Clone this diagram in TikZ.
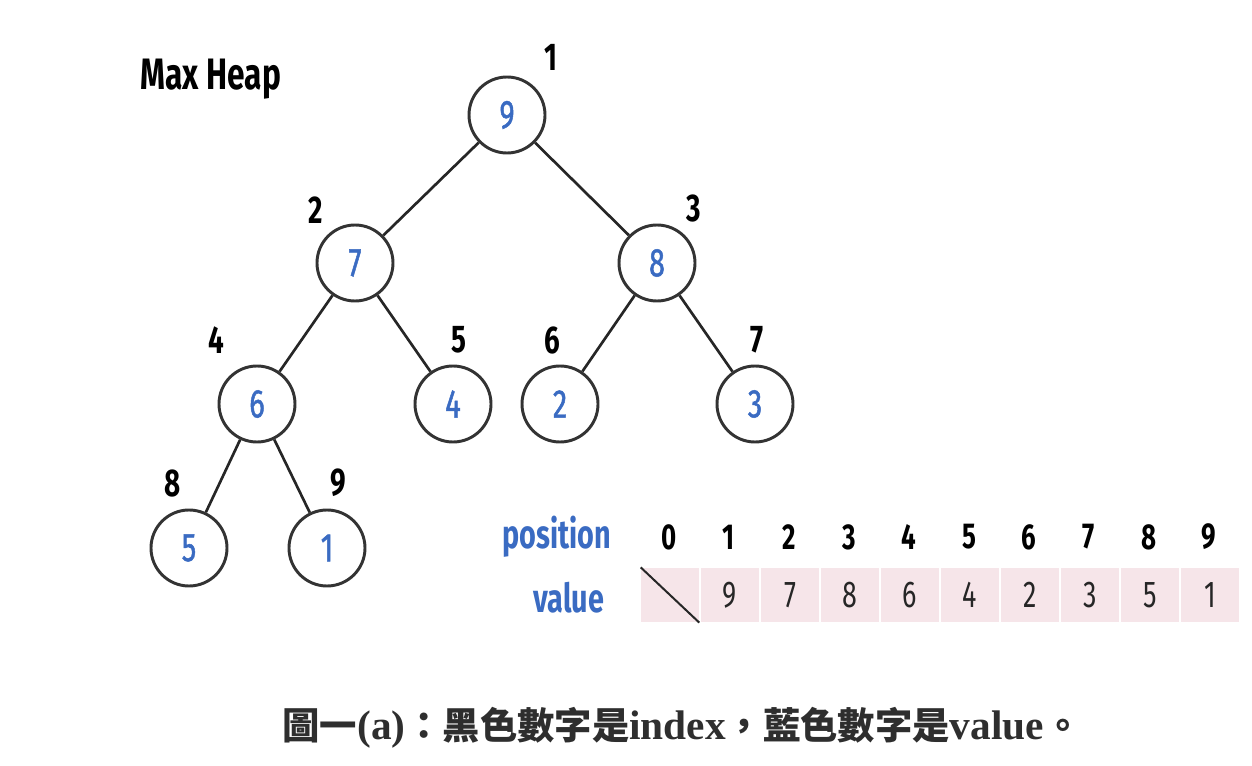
\documentclass[tikz,border=0pt]{standalone}
\usepackage{fontspec}
\usepackage{tikz}
\setmainfont{Liberation Serif}
\newfontfamily\dinfont[FakeStretch=0.72]{Fira Sans}
\newfontfamily\dinmed[FakeStretch=0.72, FakeBold=1.2]{Fira Sans}
\newfontfamily\cjkfont{Noto Sans CJK TC}
\definecolor{heapblue}{HTML}{3A6BC2}
\definecolor{cellpink}{HTML}{F6E5E9}
\definecolor{captiongray}{HTML}{2E2E2E}
\newcommand{\capcjk}[1]{{\cjkfont\fontsize{28}{28}\selectfont #1}}

\begin{document}
\begin{tikzpicture}[x=0.75pt, y=-0.75pt,
        heapnode/.style={circle, draw=black!80, line width=2.2pt, minimum size=57pt,
            inner sep=0pt, text=heapblue, font=\dinmed\fontsize{30}{30}\selectfont},
        idx/.style={font=\dinfont\bfseries\fontsize{29}{29}\selectfont},
        cell/.style={fill=cellpink, minimum width=43.5pt, minimum height=41pt,
            inner sep=0pt, text=black!85, font=\dinfont\fontsize{28}{28}\selectfont},
        edge/.style={line width=2pt, black!85}]
        \useasboundingbox (0, 0) rectangle (1252, 766);

        \node[font=\dinfont\bfseries\fontsize{33}{33}\selectfont, anchor=west] (title) at (136, 79) {Max Heap};

        % tree
        \node[heapnode] (n1) at (507, 115) {9};
        \node[heapnode] (n2) at (355, 263) {7};
        \node[heapnode] (n3) at (657, 263) {8};
        \node[heapnode] (n4) at (257, 404) {6};
        \node[heapnode] (n5) at (453, 404) {4};
        \node[heapnode] (n6) at (560, 404) {2};
        \node[heapnode] (n7) at (755, 404) {3};
        \node[heapnode] (n8) at (189, 548) {5};
        \node[heapnode] (n9) at (327, 548) {1};

        \draw[edge] (n1) -- (n2);
        \draw[edge] (n1) -- (n3);
        \draw[edge] (n2) -- (n4);
        \draw[edge] (n2) -- (n5);
        \draw[edge] (n3) -- (n6);
        \draw[edge] (n3) -- (n7);
        \draw[edge] (n4) -- (n8);
        \draw[edge] (n4) -- (n9);

        % indices
        \node[idx] (i1) at (551, 57) {1};
        \node[idx] (i2) at (316, 210) {2};
        \node[idx] (i3) at (694, 208) {3};
        \node[idx] (i4) at (216, 340) {4};
        \node[idx] (i5) at (459, 340) {5};
        \node[idx] (i6) at (552, 340) {6};
        \node[idx] (i7) at (757, 340) {7};
        \node[idx] (i8) at (173, 483) {8};
        \node[idx] (i9) at (338, 483) {9};

        % array
        \node[anchor=east, text=heapblue, font=\dinfont\bfseries\fontsize{30}{30}\selectfont] (pos) at (616, 537) {position};
        \node[anchor=east, text=heapblue, font=\dinfont\bfseries\fontsize{30}{30}\selectfont] (val) at (609, 598) {value};
        \foreach \i in {0,...,9} {
            \node[idx, font=\dinfont\bfseries\fontsize{27}{27}\selectfont] (p\i) at (669 + 60*\i, 537) {\i};
        }
        \node[cell] (v0) at (670, 595) {};
        \foreach \v [count=\i] in {9,7,8,6,4,2,3,5,1} {
            \node[cell] (v\i) at (670 + 60*\i, 595) {\v};
        }
        \draw[line width=1.5pt, black!85] (v0.north west) -- (v0.south east);

        \node[text=captiongray, font=\fontsize{31}{31}\selectfont\bfseries] (cap) at (682, 728)
            {\capcjk{圖一}(a)\capcjk{：黑色數字是}index\capcjk{，藍色數字是}value\capcjk{。}};
\end{tikzpicture}
\end{document}
